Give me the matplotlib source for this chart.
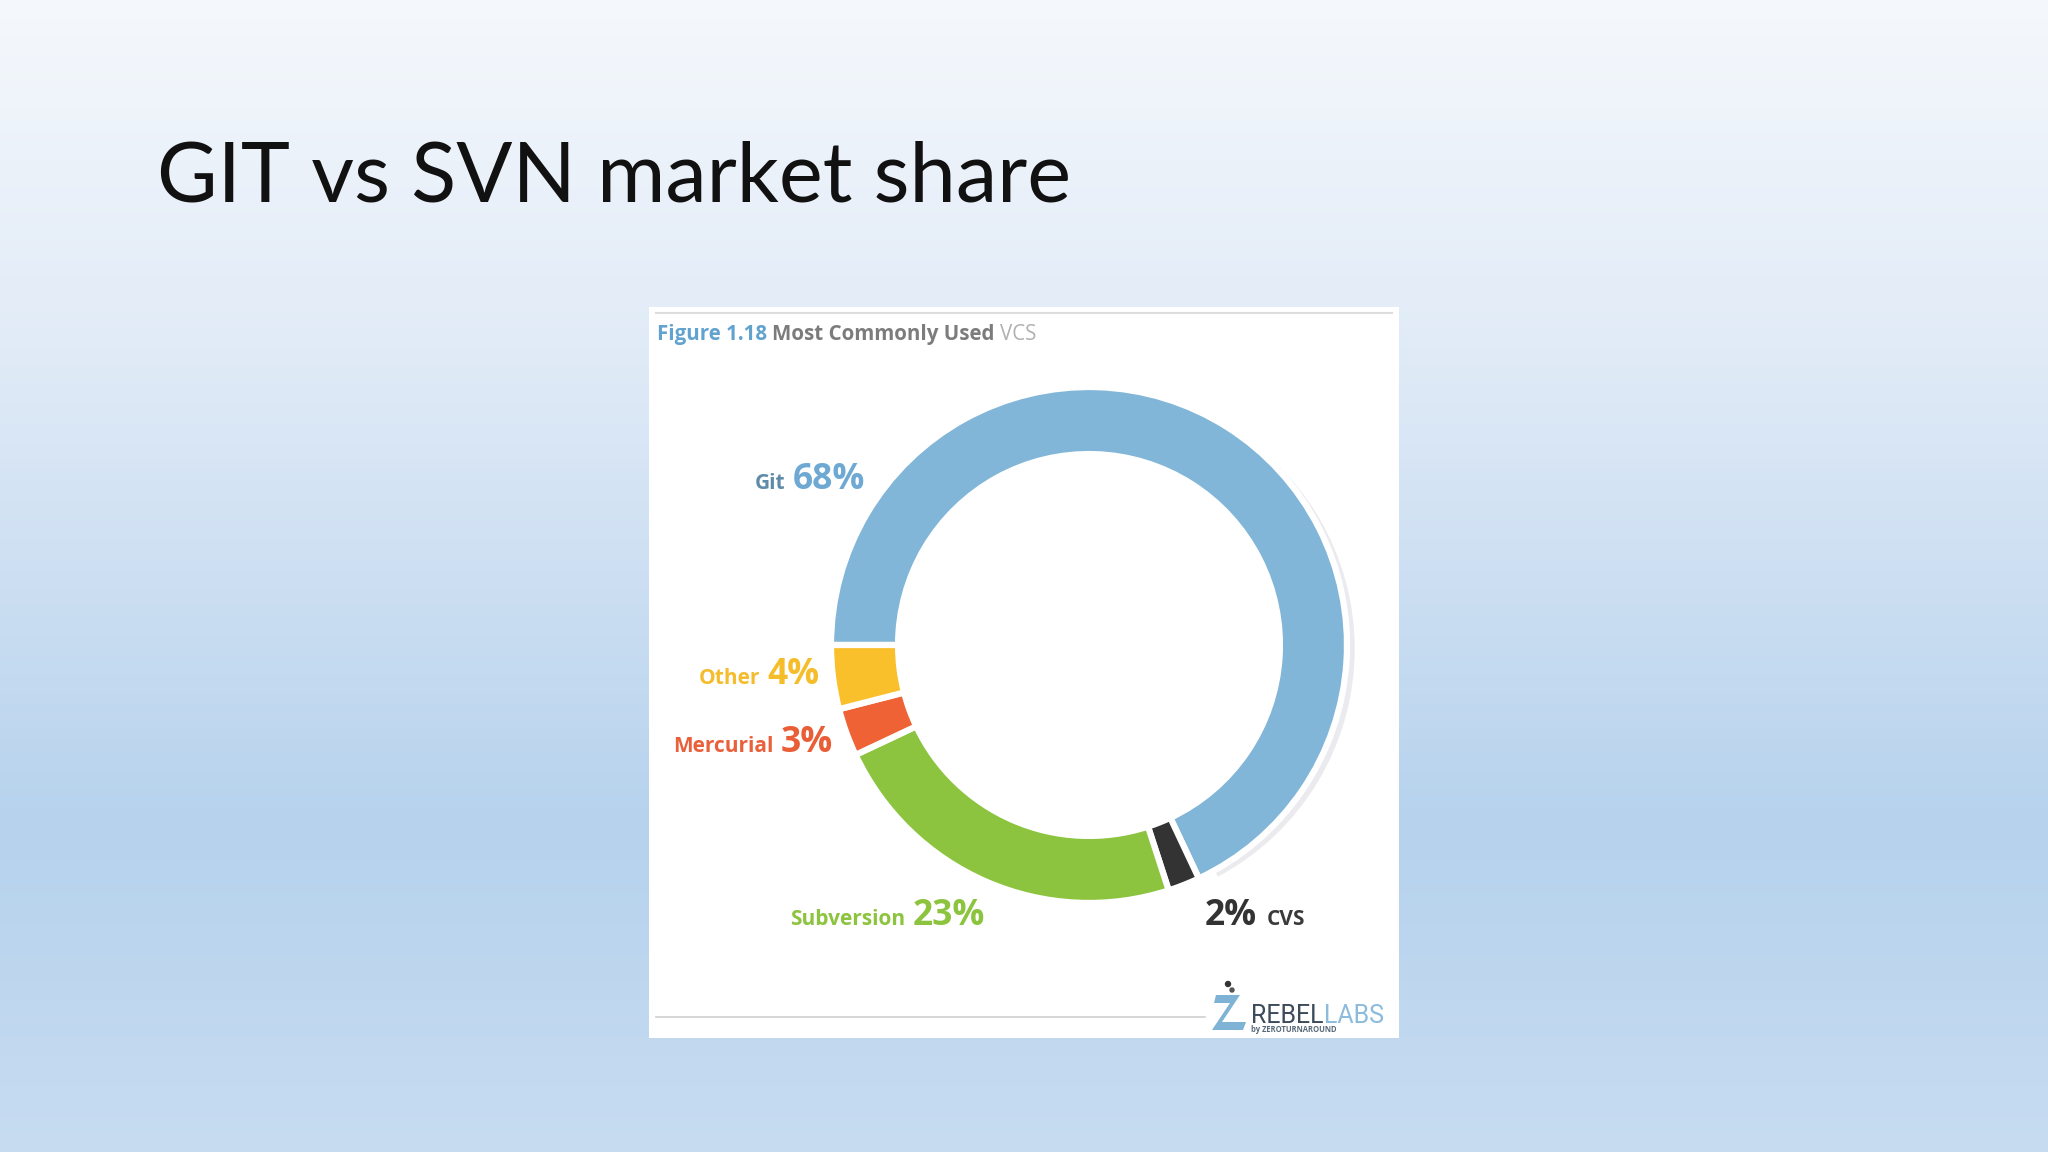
import numpy as np
import matplotlib
matplotlib.use("Agg")
import matplotlib.pyplot as plt
from matplotlib.patches import Rectangle, Polygon, Circle, Wedge
from matplotlib import font_manager as fm

# ---------------- data ----------------
categories = ["Git", "CVS", "Subversion", "Mercurial", "Other"]
shares = [68, 2, 23, 3, 4]
colors = ["#82B6D8", "#333333", "#8DC43F", "#EE6236", "#FAC02B"]
label_name_colors = ["#5F8BA9", "#3A3A3A", "#8DC43F", "#E9603A", "#F5BC2E"]
label_pct_colors = ["#6DA9D3", "#333333", "#8DC43F", "#EA5E37", "#F6BD2A"]

title = "GIT vs SVN market share"
fig_caption = ["Figure 1.18", "Most Commonly Used", "VCS"]

W, H = 2048, 1152
fig = plt.figure(figsize=(W / 100, H / 100), dpi=100)

title_fp = fm.FontProperties(family=["Lato", "DejaVu Sans"], weight="normal", size=58)

# ---------------- background gradient ----------------
bg = fig.add_axes([0, 0, 1, 1])
bg.set_axis_off()
stops = np.array([0.0, 0.30, 0.72, 1.0])
cols = np.array([[245, 248, 252], [225, 235, 247], [182, 210, 237], [199, 220, 241]]) / 255
yy = np.linspace(0, 1, 400)
grad = np.stack([np.interp(yy, stops, cols[:, c]) for c in range(3)], axis=1)
img = np.repeat(grad[:, None, :], 4, axis=1)
bg.imshow(img, aspect="auto", extent=[0, W, H, 0])
bg.set_xlim(0, W)
bg.set_ylim(H, 0)

# white panel
bg.add_patch(Rectangle((649, 307), 750, 731, facecolor="white", edgecolor="none"))
bg.plot([656, 1392], [313, 313], color="#DDDDDD", lw=1.5)
bg.plot([656, 1205], [1017, 1017], color="#D0D0D0", lw=1.2)

# title
tt = bg.text(157, 202, title, fontproperties=title_fp, color="#111111", va="baseline", ha="left")

# ---------------- donut ----------------
cx, cy, R = 1089, 645, 258
half = 320
ax = fig.add_axes([(cx - half) / W, (H - cy - half) / H, 2 * half / W, 2 * half / H])
ax.set_aspect("equal")
ax.set_axis_off()
# soft shadow ring
ax.add_patch(Wedge((0.03, -0.015), 1.0, -62, 62, width=0.27, facecolor="#EBEBEF", edgecolor="none", zorder=0))
ax.pie(shares, colors=colors, startangle=180, counterclock=False, radius=1.0,
       wedgeprops=dict(width=0.26, edgecolor="white", linewidth=4.5), center=(0, 0))
ax.set_xlim(-half / R, half / R)
ax.set_ylim(-half / R, half / R)

# ---------------- labels ----------------
fig.canvas.draw()
renderer = fig.canvas.get_renderer()
# fit title width to reference (~914 px)
bbt = tt.get_window_extent(renderer)
scale = 914.0 / bbt.width
title_fp.set_size(title_fp.get_size() * min(scale, 1.2))
tt.set_fontproperties(title_fp)
fig.canvas.draw()

LFONT = ["Open Sans", "DejaVu Sans"]


def fx(x):
    return x / W


def fy(y):
    return 1 - y / H


def label_right(xr, yb, name, pct, cname, cpct, pct_size=25.5, name_size=15):
    t = fig.text(fx(xr), fy(yb), pct, fontsize=pct_size, fontweight="bold", family=LFONT,
                 color=cpct, ha="right", va="baseline")
    bb = t.get_window_extent(renderer)
    fig.text(fx(bb.x0 - 7), fy(yb), name, fontsize=name_size, fontweight="bold", family=LFONT,
             color=cname, ha="right", va="baseline")


def label_left_pct_first(xl, yb, pct, name, cpct, cname, pct_size=25.5, name_size=15):
    t = fig.text(fx(xl), fy(yb), pct, fontsize=pct_size, fontweight="bold", family=LFONT,
                 color=cpct, ha="left", va="baseline")
    bb = t.get_window_extent(renderer)
    fig.text(fx(bb.x1 + 10), fy(yb), name, fontsize=name_size, fontweight="bold", family=LFONT,
             color=cname, ha="left", va="baseline")


def label_left(xl, yb, name, pct, cname, cpct, pct_size=25.5, name_size=15):
    t = fig.text(fx(xl), fy(yb), name, fontsize=name_size, fontweight="bold", family=LFONT,
                 color=cname, ha="left", va="baseline")
    bb = t.get_window_extent(renderer)
    fig.text(fx(bb.x1 + 8), fy(yb), pct, fontsize=pct_size, fontweight="bold", family=LFONT,
             color=cpct, ha="left", va="baseline")


pcts = [f"{v}%" for v in shares]
label_right(865, 489, categories[0], pcts[0], label_name_colors[0], label_pct_colors[0])
label_right(819, 684, categories[4], pcts[4], label_name_colors[4], label_pct_colors[4])
label_right(833, 752, categories[3], pcts[3], label_name_colors[3], label_pct_colors[3])
label_left(790, 925, categories[2], pcts[2], label_name_colors[2], label_pct_colors[2])
label_left_pct_first(1205, 925, pcts[1], categories[1], label_pct_colors[1], label_name_colors[1])

# caption
x = 657
parts = [(fig_caption[0], "#62A2CF", "bold"), (fig_caption[1], "#7C7C7C", "bold"), (fig_caption[2], "#B0B0B0", "normal")]
for txt, c, w in parts:
    t = fig.text(fx(x), fy(340), txt, fontsize=14.8, fontweight=w, family=LFONT, color=c,
                 ha="left", va="baseline")
    bb = t.get_window_extent(renderer)
    x = bb.x1 + 5

# logo
bg.add_patch(Polygon([[1216, 995], [1240, 995], [1222, 1022], [1246, 1022], [1243, 1030], [1212, 1030],
                      [1230, 1003], [1214, 1003]], closed=True, facecolor="#7FB3D6", edgecolor="none"))
bg.add_patch(Circle((1228, 984), 2.5, color="#333333"))
bg.add_patch(Circle((1232, 990), 2.0, color="#555555"))
t = fig.text(fx(1251), fy(1023), "REBEL", fontsize=18, family=["Roboto", "DejaVu Sans"],
             color="#3E4B5A", ha="left", va="baseline")
bb = t.get_window_extent(renderer)
fig.text(bb.x1 / W, fy(1023), "LABS", fontsize=18, family=["Roboto", "DejaVu Sans"],
         color="#8CBBDD", ha="left", va="baseline")
fig.text(fx(1251), fy(1032), "by ZEROTURNAROUND", fontsize=5.5, fontweight="bold", family=LFONT,
         color="#5A6A7A", ha="left", va="baseline")

fig.savefig("out.png", dpi=100)
